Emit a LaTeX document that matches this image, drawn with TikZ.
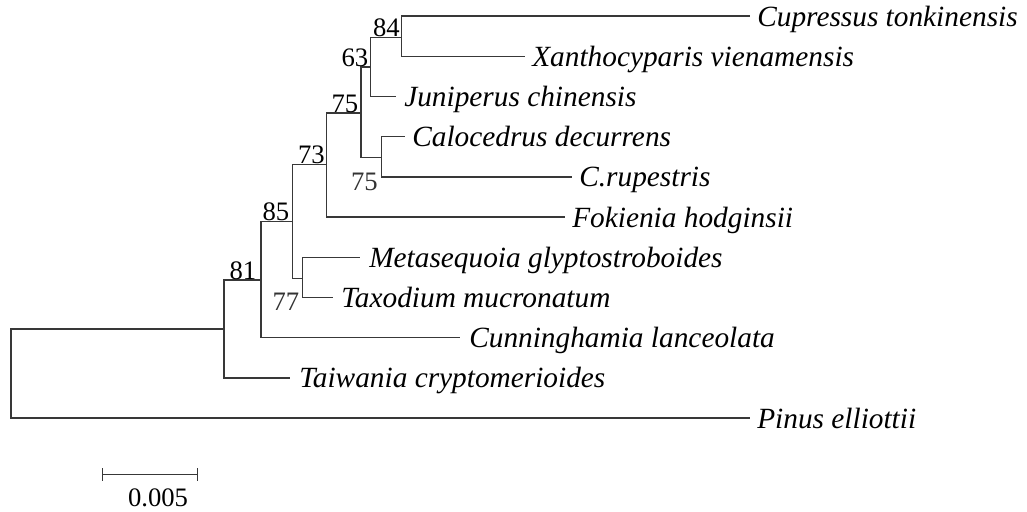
\documentclass[tikz,border=0pt]{standalone}
\usepackage{fontspec}
\setmainfont{Liberation Serif}
\begin{document}
\begin{tikzpicture}[x=0.75pt,y=-0.75pt,
  branch/.style={draw=black!78,line width=1.05pt},
  leaf/.style={anchor=base west,inner sep=0pt,font=\itshape\fontsize{22}{26}\selectfont},
  bs/.style={anchor=base east,inner sep=0pt,font=\fontsize{20}{24}\selectfont},
  bslow/.style={bs,text=black!80}]
\useasboundingbox (0,0) rectangle (1027,511);
% internal nodes
\coordinate (A) at (11,373.5);
\coordinate (B) at (224,329);
\coordinate (C) at (261,280);
\coordinate (D) at (292.3,221.7);
\coordinate (E) at (302.3,278.3);
\coordinate (F) at (326.7,164.3);
\coordinate (G) at (361,113);
\coordinate (H) at (370.7,67);
\coordinate (I) at (401.7,37.7);
\coordinate (J) at (381.7,157.3);
% leaf tips
\coordinate (tcup) at (750,16);
\coordinate (txan) at (525,56.2);
\coordinate (tjun) at (396,96.4);
\coordinate (tcal) at (405,136.6);
\coordinate (tcru) at (572,176.8);
\coordinate (tfok) at (565,217);
\coordinate (tmet) at (360,257.2);
\coordinate (ttax) at (333,297.4);
\coordinate (tcun) at (460,337.6);
\coordinate (ttai) at (290,377.8);
\coordinate (tpin) at (750,418);
% leaf labels
\node[leaf] (cup) at (757,26) {Cupressus tonkinensis};
\node[leaf] (xan) at (532,66.2) {Xanthocyparis vienamensis};
\node[leaf] (jun) at (404,106.4) {Juniperus chinensis};
\node[leaf] (cal) at (412,146.6) {Calocedrus decurrens};
\node[leaf] (cru) at (579,186.8) {C.rupestris};
\node[leaf] (fok) at (572,227) {Fokienia hodginsii};
\node[leaf] (met) at (369,267.2) {Metasequoia glyptostroboides};
\node[leaf] (tax) at (341,307.4) {Taxodium mucronatum};
\node[leaf] (cun) at (469,347.6) {Cunninghamia lanceolata};
\node[leaf] (tai) at (299,387.8) {Taiwania cryptomerioides};
\node[leaf] (pin) at (757,428) {Pinus elliottii};
% branches
\draw[branch] (A) |- (B);
\draw[branch] (A) |- (tpin);
\draw[branch] (B) |- (C);
\draw[branch] (B) |- (ttai);
\draw[branch] (C) |- (D);
\draw[branch] (C) |- (tcun);
\draw[branch] (D) |- (F);
\draw[branch] (D) |- (E);
\draw[branch] (E) |- (tmet);
\draw[branch] (E) |- (ttax);
\draw[branch] (F) |- (G);
\draw[branch] (F) |- (tfok);
\draw[branch] (G) |- (H);
\draw[branch] (G) |- (J);
\draw[branch] (H) |- (I);
\draw[branch] (H) |- (tjun);
\draw[branch] (I) |- (tcup);
\draw[branch] (I) |- (txan);
\draw[branch] (J) |- (tcal);
\draw[branch] (J) |- (tcru);
% bootstrap values
\node[bs] (b84) at (400,36) {84};
\node[bs] (b63) at (368.5,66) {63};
\node[bs] (b75a) at (358.5,112) {75};
\node[bs] (b73) at (325,163) {73};
\node[bs] (b85) at (289.5,220.5) {85};
\node[bs] (b81) at (256.5,279) {81};
\node[bslow] (b75b) at (378,190) {75};
\node[bslow] (b77) at (299.5,310) {77};
% scale bar
\coordinate (s1) at (102.7,474.3);
\coordinate (s2) at (197.7,474.3);
\draw[branch] (s1) -- (s2);
\draw[branch] ([yshift=-5pt]s1) -- ([yshift=5pt]s1);
\draw[branch] ([yshift=-5pt]s2) -- ([yshift=5pt]s2);
\node[anchor=base,inner sep=0pt,font=\fontsize{20}{24}\selectfont] (sbl) at (158,506) {0.005};
\end{tikzpicture}
\end{document}
